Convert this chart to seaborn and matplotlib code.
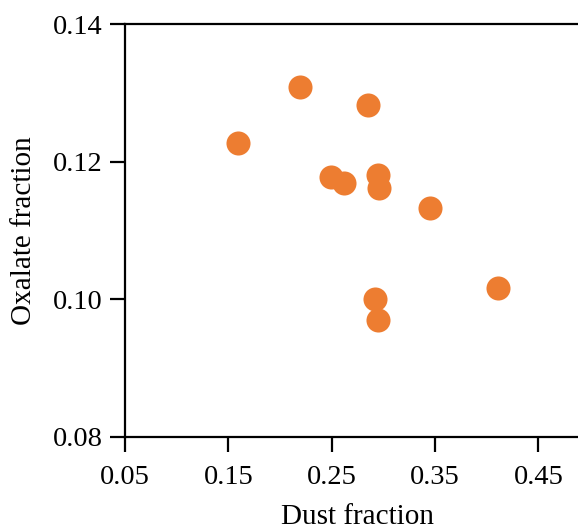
import matplotlib
matplotlib.use("Agg")
import matplotlib.pyplot as plt
import seaborn as sns
import pandas as pd

dust_fraction = [0.159, 0.219, 0.285, 0.249, 0.262, 0.295, 0.296, 0.345, 0.411, 0.292, 0.295]
oxalate_fraction = [0.1227, 0.1308, 0.1282, 0.1178, 0.1169, 0.1181, 0.1162, 0.1133, 0.1016, 0.1000, 0.0970]
x_ticks = [0.05, 0.15, 0.25, 0.35, 0.45]
y_ticks = [0.08, 0.10, 0.12, 0.14]

df = pd.DataFrame({"Dust fraction": dust_fraction, "Oxalate fraction": oxalate_fraction})

sns.set_theme(style="white")
plt.rcParams['font.family'] = ['Liberation Serif', 'DejaVu Serif']

fig = plt.figure(figsize=(5.78, 5.32), dpi=100)
ax = fig.add_axes([125/578, 1 - 437/532, 465/578, (437 - 24)/532])

sns.scatterplot(data=df, x="Dust fraction", y="Oxalate fraction", ax=ax,
                color="#ED7D31", s=300, linewidth=0, alpha=1, clip_on=False)

ax.set_xlim(0.05, 0.5)
ax.set_ylim(0.08, 0.14)
ax.set_xticks(x_ticks)
ax.set_xticklabels([f"{v:.2f}" for v in x_ticks])
ax.set_yticks(y_ticks)
ax.set_yticklabels([f"{v:.2f}" for v in y_ticks])

for side in ["left", "bottom", "top"]:
    ax.spines[side].set_visible(True)
    ax.spines[side].set_color("black")
    ax.spines[side].set_linewidth(1.6)
ax.spines["right"].set_visible(False)

ax.tick_params(axis="both", which="major", direction="out", length=11, width=1.6,
               labelsize=20.5, color="black", labelcolor="black",
               bottom=True, left=True, top=False, right=False)
ax.tick_params(axis="x", pad=9)
ax.tick_params(axis="y", pad=5)

ax.set_xlabel("Dust fraction", fontsize=21, labelpad=10, color="black")
ax.set_ylabel("Oxalate fraction", fontsize=21, labelpad=11, color="black")

fig.savefig("out.png", dpi=100)
